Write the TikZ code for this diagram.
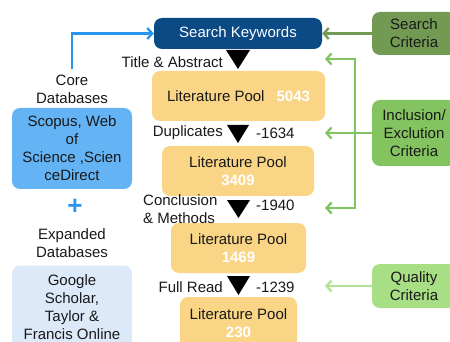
\documentclass[tikz,border=0pt]{standalone}
\usepackage{fontspec}
\setmainfont{Liberation Sans}
\usetikzlibrary{arrows.meta}
\definecolor{kwblue}{RGB}{12,74,134}
\definecolor{scgreen}{RGB}{114,154,82}
\definecolor{icgreen}{RGB}{132,196,96}
\definecolor{qcgreen}{RGB}{168,222,132}
\definecolor{icarrow}{RGB}{128,196,98}
\definecolor{qcarrow}{RGB}{176,228,146}
\definecolor{poolc}{RGB}{249,213,133}
\definecolor{corec}{RGB}{100,180,245}
\definecolor{expc}{RGB}{220,233,248}
\definecolor{linkblue}{RGB}{40,150,240}
\definecolor{txt}{RGB}{25,25,25}
\begin{document}
\begin{tikzpicture}[x=1pt,y=-1pt,
  box/.style={rounded corners=8pt, align=center, inner sep=0pt, text=txt,
              font=\fontsize{15}{18}\selectfont},
  pool/.style={box, fill=poolc, minimum height=50pt},
  crit/.style={box, minimum width=84pt},
  lab/.style={font=\fontsize{15}{18}\selectfont, inner sep=0pt, text=txt},
  arr/.style={line width=2.3pt, -{Straight Barb[length=5pt,width=11pt]}},
  arrs/.style={line width=2.3pt, {Straight Barb[length=5pt,width=11pt]}-{Straight Barb[length=5pt,width=11pt]}}]
\clip (0,0) rectangle (450,342);
\fill[white] (0,0) rectangle (450,342);

% main column
\node[box, fill=kwblue, text=white, minimum width=168pt, minimum height=31pt] (kw) at (238,33.5) {Search Keywords};
\node[pool, minimum width=173pt] (p1) at (238.5,96) {Literature Pool\hspace{12pt}\textcolor{white}{\bfseries 5043}};
\node[pool, minimum width=152pt] (p2) at (238,171) {Literature Pool\\\textcolor{white}{\bfseries 3409}};
\node[pool, minimum width=135pt] (p3) at (238.5,248) {Literature Pool\\\textcolor{white}{\bfseries 1469}};
\node[pool, minimum width=117pt, minimum height=52pt] (p4) at (238.5,323) {Literature Pool\\\textcolor{white}{\bfseries 230}};

% triangles
\fill[black] (226,50) -- (250,50) -- (238,69) -- cycle;
\fill[black] (227,125) -- (249,125) -- (238,143) -- cycle;
\fill[black] (227,200) -- (250,200) -- (238.5,218) -- cycle;
\fill[black] (227,276) -- (250,276) -- (238.5,295) -- cycle;

% step labels
\node[lab, anchor=east] (l1) at (223,62) {Title \& Abstract};
\node[lab, anchor=east] (l2) at (223,133) {Duplicates};
\node[lab, anchor=west] (n2) at (256,133) {-1634};
\node[lab, anchor=west, align=left] (l3) at (143,209) {Conclusion\\\& Methods};
\node[lab, anchor=west] (n3) at (256,205) {-1940};
\node[lab, anchor=east] (l4) at (223,287) {Full Read};
\node[lab, anchor=west] (n4) at (256,287) {-1239};

% criteria
\node[crit, fill=scgreen, minimum height=43pt] (sc) at (414,33.5) {Search\\Criteria};
\node[crit, fill=icgreen, minimum height=66pt] (ic) at (414,133) {Inclusion/\\Exclution\\Criteria};
\node[crit, fill=qcgreen, minimum height=44pt] (qc) at (414,286) {Quality\\Criteria};

\coordinate (inA) at (325,59);
\coordinate (inB) at (325,133);
\coordinate (inV) at (355,133);
\coordinate (inC) at (325,208);
\coordinate (qA) at (325,286);

\draw[arr, scgreen] (sc.west) -- (kw.east);
\draw[arr, icarrow] (ic.west) -- (inB);
\draw[arrs, icarrow] (inA) -| (inV) |- (inC);
\draw[arr, qcarrow] (qc.west) -- (qA);

% databases
\node[lab, align=center] (core) at (72,89) {Core\\Databases};
\node[box, fill=corec, minimum width=120pt, minimum height=81pt] (cdb) at (72,148.5) {Scopus, Web\\of\\Science ,Scien\\ceDirect};
\node[inner sep=0pt, text=linkblue, font=\fontsize{26}{26}\selectfont\bfseries] (plus) at (75,207) {+};
\node[lab, align=center] (exp) at (72,243.5) {Expanded\\Databases};
\node[box, fill=expc, minimum width=120pt, minimum height=84pt] (edb) at (72,307.5) {Google\\Scholar,\\Taylor \&\\Francis Online};

\draw[arr, linkblue] ([yshift=5pt]core.north) |- (kw.west);
\end{tikzpicture}
\end{document}
